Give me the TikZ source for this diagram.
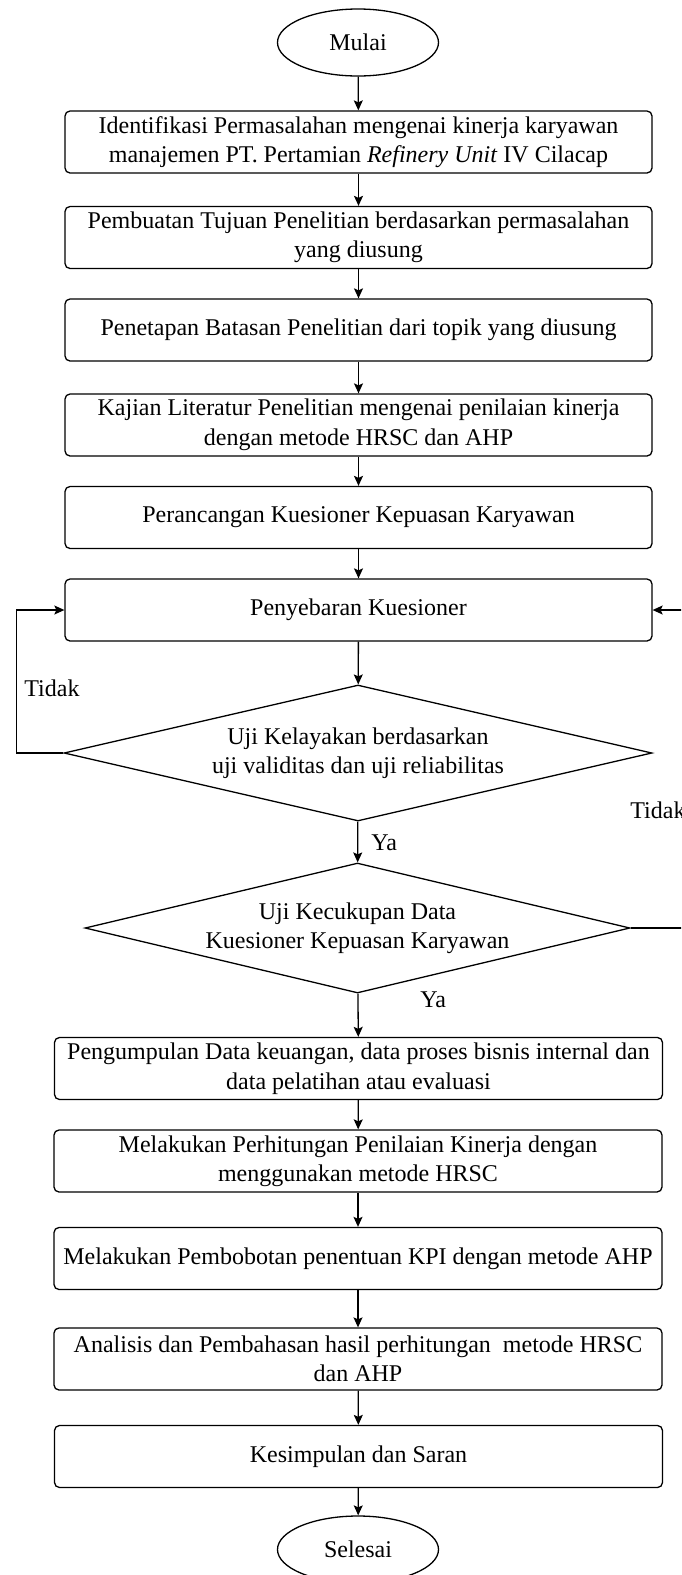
\documentclass[tikz,border=0pt]{standalone}
\usepackage{fontspec}
\setmainfont{Liberation Serif}
\usetikzlibrary{shapes.geometric,arrows.meta}
\begin{document}
\begin{tikzpicture}[x=0.5pt,y=-0.5pt,
  every node/.style={font=\fontsize{12}{14.75}\selectfont},
  proc/.style={draw, rounded corners=2.5pt, minimum height=31pt, align=center, inner sep=0pt, line width=0.65pt},
  procA/.style={proc, minimum width=293.5pt},
  procB/.style={proc, minimum width=304pt},
  term/.style={draw, ellipse, minimum width=80.5pt, minimum height=33.5pt, inner sep=0pt, line width=0.65pt},
  dec/.style={draw, diamond, shape aspect=4.3, align=center, inner sep=0pt, line width=0.65pt},
  arr/.style={-{Stealth[length=5pt,width=4.5pt,inset=1pt]}, line width=0.65pt},
  lbl/.style={anchor=west, inner sep=0pt}]
\clip (0,0) rectangle (681,1575);
\fill[white] (0,0) rectangle (681,1575);

\node[term] (mulai) at (358,42.5) {Mulai};
\node[procA] (b1) at (358.5,142) {Identifikasi Permasalahan mengenai kinerja karyawan\\manajemen PT. Pertamian \textit{Refinery Unit} IV Cilacap};
\node[procA] (b2) at (358.5,237.5) {Pembuatan Tujuan Penelitian berdasarkan permasalahan\\yang diusung};
\node[procA] (b3) at (358.5,330) {Penetapan Batasan Penelitian dari topik yang diusung};
\node[procA] (b4) at (358.5,425) {Kajian Literatur Penelitian mengenai penilaian kinerja\\dengan metode HRSC dan AHP};
\node[procA] (b5) at (358.5,517.5) {Perancangan Kuesioner Kepuasan Karyawan};
\node[procA] (b6) at (358.5,610) {Penyebaran Kuesioner};
\node[dec, minimum width=294pt, minimum height=68pt] (d1) at (358,753) {Uji Kelayakan berdasarkan\\uji validitas dan uji reliabilitas};
\node[dec, minimum width=272.5pt, minimum height=65pt] (d2) at (357.5,928) {Uji Kecukupan Data\\Kuesioner Kepuasan Karyawan};
\node[procB] (b7) at (358.5,1068.5) {Pengumpulan Data keuangan, data proses bisnis internal dan\\data pelatihan atau evaluasi};
\node[procB] (b8) at (358,1161) {Melakukan Perhitungan Penilaian Kinerja dengan\\menggunakan metode HRSC};
\node[procB] (b9) at (358,1258.5) {Melakukan Pembobotan penentuan KPI dengan metode AHP};
\node[procB] (b10) at (358,1359) {Analisis dan Pembahasan hasil perhitungan\ \ metode HRSC\\dan AHP};
\node[procB] (b11) at (358.5,1456.5) {Kesimpulan dan Saran};
\node[term] (selesai) at (358,1549.5) {Selesai};

\node[lbl] (t1) at (24,688) {Tidak};
\node[lbl] (t2) at (630,810) {Tidak};
\node[lbl] (y1) at (371,843) {Ya};
\node[lbl] (y2) at (420,1000) {Ya};

\draw[arr] (mulai) -- (b1);
\draw[arr] (b1) -- (b2);
\draw[arr] (b2) -- (b3);
\draw[arr] (b3) -- (b4);
\draw[arr] (b4) -- (b5);
\draw[arr] (b5) -- (b6);
\draw[arr] (b6) -- (d1);
\draw[arr] (d1) -- (d2);
\draw[arr] (d2) -- (b7);
\draw[arr] (b7) -- (b8);
\draw[arr] (b8) -- (b9);
\draw[arr] (b9) -- (b10);
\draw[arr] (b10) -- (b11);
\draw[arr] (b11) -- (selesai);

\coordinate (lc) at (16.5,753);
\coordinate (rc) at (700,928);
\draw[arr] (d1.west) -- (lc) |- (b6.west);
\draw[arr] (d2.east) -- (rc) |- (b6.east);
\end{tikzpicture}
\end{document}
